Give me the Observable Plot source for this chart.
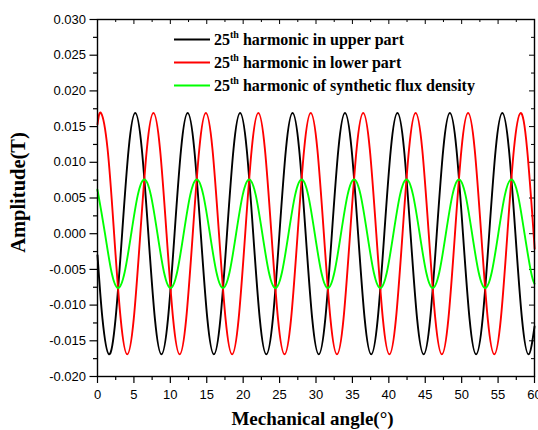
<!DOCTYPE html>
<html><head><meta charset="utf-8">
<script src="https://cdn.jsdelivr.net/npm/d3@7"></script>
<script src="https://cdn.jsdelivr.net/npm/@observablehq/plot@0.6"></script>
<style>body{margin:0;background:#fff}#chart{width:538px;height:430px}</style>
</head><body><div id="chart"></div>
<script>
// Series (samples at peaks, troughs, zero crossings and in between)
const seriesNames = ["harmonic in upper part", "harmonic in lower part", "harmonic of synthetic flux density"];
const seriesColors = ["#000000", "#ff0000", "#00ff00"];

const upperAngle = [0, 0.68, 1.58, 2.48, 3.38, 4.28, 5.18, 6.08, 6.98, 7.88, 8.78, 9.68, 10.58, 11.48, 12.38, 13.28, 14.18, 15.08, 15.98, 16.88, 17.78, 18.68, 19.58, 20.48, 21.38, 22.28, 23.18, 24.08, 24.98, 25.88, 26.78, 27.68, 28.58, 29.48, 30.38, 31.28, 32.18, 33.08, 33.98, 34.88, 35.78, 36.68, 37.58, 38.48, 39.38, 40.28, 41.18, 42.08, 42.98, 43.88, 44.78, 45.68, 46.58, 47.48, 48.38, 49.28, 50.18, 51.08, 51.98, 52.88, 53.78, 54.68, 55.58, 56.48, 57.38, 58.28, 59.18, 60];
const upperValue = [-0.0030,
  -0.0119, -0.0169, -0.0119, 0, 0.0119, 0.0169, 0.0119, 0,
  -0.0119, -0.0169, -0.0119, 0, 0.0119, 0.0169, 0.0119, 0,
  -0.0119, -0.0169, -0.0119, 0, 0.0119, 0.0169, 0.0119, 0,
  -0.0119, -0.0169, -0.0119, 0, 0.0119, 0.0169, 0.0119, 0,
  -0.0119, -0.0169, -0.0119, 0, 0.0119, 0.0169, 0.0119, 0,
  -0.0119, -0.0169, -0.0119, 0, 0.0119, 0.0169, 0.0119, 0,
  -0.0119, -0.0169, -0.0119, 0, 0.0119, 0.0169, 0.0119, 0,
  -0.0119, -0.0169, -0.0119, 0, 0.0119, 0.0169, 0.0119, 0,
  -0.0119, -0.0169, -0.0130];

const lowerAngle = [0, 0.48, 1.38, 2.28, 3.18, 4.08, 4.98, 5.88, 6.78, 7.68, 8.58, 9.48, 10.38, 11.28, 12.18, 13.08, 13.98, 14.88, 15.78, 16.68, 17.58, 18.48, 19.38, 20.28, 21.18, 22.08, 22.98, 23.88, 24.78, 25.68, 26.58, 27.48, 28.38, 29.28, 30.18, 31.08, 31.98, 32.88, 33.78, 34.68, 35.58, 36.48, 37.38, 38.28, 39.18, 40.08, 40.98, 41.88, 42.78, 43.68, 44.58, 45.48, 46.38, 47.28, 48.18, 49.08, 49.98, 50.88, 51.78, 52.68, 53.58, 54.48, 55.38, 56.28, 57.18, 58.08, 58.98, 59.88, 60];
const lowerValue = [0.0153,
  0.0169, 0.0119, 0, -0.0119, -0.0169, -0.0119, 0, 0.0119,
  0.0169, 0.0119, 0, -0.0119, -0.0169, -0.0119, 0, 0.0119,
  0.0169, 0.0119, 0, -0.0119, -0.0169, -0.0119, 0, 0.0119,
  0.0169, 0.0119, 0, -0.0119, -0.0169, -0.0119, 0, 0.0119,
  0.0169, 0.0119, 0, -0.0119, -0.0169, -0.0119, 0, 0.0119,
  0.0169, 0.0119, 0, -0.0119, -0.0169, -0.0119, 0, 0.0119,
  0.0169, 0.0119, 0, -0.0119, -0.0169, -0.0119, 0, 0.0119,
  0.0169, 0.0119, 0, -0.0119, -0.0169, -0.0119, 0, 0.0119,
  0.0169, 0.0119, 0, -0.0018];

const synthAngle = [0, 0.13, 1.03, 1.93, 2.83, 3.73, 4.63, 5.53, 6.43, 7.33, 8.23, 9.13, 10.03, 10.93, 11.83, 12.73, 13.63, 14.53, 15.43, 16.33, 17.23, 18.13, 19.03, 19.93, 20.83, 21.73, 22.63, 23.53, 24.43, 25.33, 26.23, 27.13, 28.03, 28.93, 29.83, 30.73, 31.63, 32.53, 33.43, 34.33, 35.23, 36.13, 37.03, 37.93, 38.83, 39.73, 40.63, 41.53, 42.43, 43.33, 44.23, 45.13, 46.03, 46.93, 47.83, 48.73, 49.63, 50.53, 51.43, 52.33, 53.23, 54.13, 55.03, 55.93, 56.83, 57.73, 58.63, 59.53, 60];
const synthValue = [0.0060,
  0.0054, 0, -0.0054, -0.0076, -0.0054, 0, 0.0054, 0.0076,
  0.0054, 0, -0.0054, -0.0076, -0.0054, 0, 0.0054, 0.0076,
  0.0054, 0, -0.0054, -0.0076, -0.0054, 0, 0.0054, 0.0076,
  0.0054, 0, -0.0054, -0.0076, -0.0054, 0, 0.0054, 0.0076,
  0.0054, 0, -0.0054, -0.0076, -0.0054, 0, 0.0054, 0.0076,
  0.0054, 0, -0.0054, -0.0076, -0.0054, 0, 0.0054, 0.0076,
  0.0054, 0, -0.0054, -0.0076, -0.0054, 0, 0.0054, 0.0076,
  0.0054, 0, -0.0054, -0.0076, -0.0054, 0, 0.0054, 0.0076,
  0.0054, 0, -0.0054, -0.0070];

// Axes
const xTicks = [0, 5, 10, 15, 20, 25, 30, 35, 40, 45, 50, 55, 60];
const xMinorTicks = [2.5, 7.5, 12.5, 17.5, 22.5, 27.5, 32.5, 37.5, 42.5, 47.5, 52.5, 57.5];
const yTicks = [-0.020, -0.015, -0.010, -0.005, 0.000, 0.005, 0.010, 0.015, 0.020, 0.025, 0.030];
const yMinorTicks = [-0.0175, -0.0125, -0.0075, -0.0025, 0.0025, 0.0075, 0.0125, 0.0175, 0.0225, 0.0275];
const xTitle = "Mechanical angle(°)";
const yTitle = "Amplitude(T)";

const W = 538, H = 430, mL = 97, mR = 4, mT = 19, mB = 54;
const innerW = W - mL - mR, innerH = H - mT - mB;

const toRows = (xs, ys) => xs.map((x, i) => ({angle: x, value: ys[i]}));
const lines = [[upperAngle, upperValue], [lowerAngle, lowerValue], [synthAngle, synthValue]]
  .map(([xs, ys], i) => Plot.line(toRows(xs, ys), {x: "angle", y: "value", stroke: seriesColors[i], strokeWidth: 1.9, curve: "natural"}));

const plot = Plot.plot({
  width: W, height: H,
  marginLeft: mL, marginRight: mR, marginTop: mT, marginBottom: mB,
  style: {fontFamily: "'Liberation Sans', Arial, sans-serif", fontSize: "13px", color: "#000", background: "#fff"},
  x: {domain: [0, 60], label: null},
  y: {domain: [-0.02, 0.03], label: null},
  marks: [
    Plot.axisY(yTicks, {tickSize: 7.5, tickPadding: 4, tickFormat: d => d.toFixed(3), label: null, strokeWidth: 1.2}),
    Plot.axisY(yMinorTicks, {tickSize: 4, tickFormat: () => "", label: null, strokeWidth: 1.2}),
    Plot.axisX(xTicks, {tickSize: 7, tickPadding: 6.5, tickFormat: d => String(d), label: null, strokeWidth: 1.2}),
    Plot.axisX(xMinorTicks, {tickSize: 4, tickFormat: () => "", label: null, strokeWidth: 1.2}),
    Plot.tickY(yTicks, {y: d => d, insetLeft: innerW - 5, strokeWidth: 1}),
    Plot.tickY(yMinorTicks, {y: d => d, insetLeft: innerW - 3, strokeWidth: 1}),
    Plot.tickX(xTicks, {x: d => d, insetBottom: innerH - 5, strokeWidth: 1}),
    Plot.tickX(xMinorTicks, {x: d => d, insetBottom: innerH - 3, strokeWidth: 1}),
    ...lines,
    Plot.frame({stroke: "#000", strokeWidth: 1.4})
  ]
});

const svg = d3.select(plot);
const serif = "'Liberation Serif', 'Times New Roman', serif";
const xs = plot.scale("x"), ys = plot.scale("y");
const cx = (xs.range[0] + xs.range[1]) / 2;
const cy = (ys.range[0] + ys.range[1]) / 2;

svg.append("text").attr("x", cx - 3).attr("y", 425).attr("text-anchor", "middle")
  .attr("font-family", serif).attr("font-weight", "bold").attr("font-size", 19).attr("fill", "#000").text(xTitle);
svg.append("text").attr("transform", `translate(25,${cy - 5}) rotate(-90)`).attr("text-anchor", "middle")
  .attr("font-family", serif).attr("font-weight", "bold").attr("font-size", 20.5).attr("fill", "#000").text(yTitle);

// Legend
const lg = svg.append("g").attr("font-family", serif).attr("font-weight", "bold").attr("font-size", 16)
  .attr("fill", "#000").attr("text-anchor", "start");
seriesNames.forEach((name, i) => {
  const y = 39.5 + i * 23;
  lg.append("line").attr("x1", 174).attr("x2", 210).attr("y1", y).attr("y2", y).attr("stroke", seriesColors[i]).attr("stroke-width", 1.9);
  const t = lg.append("text").attr("x", 214).attr("y", y + 5).attr("text-anchor", "start");
  t.append("tspan").text("25");
  t.append("tspan").attr("font-size", 10).attr("dy", -7).text("th");
  t.append("tspan").attr("dy", 7).text(" " + name);
});

document.getElementById("chart").appendChild(plot);
</script>
</body></html>
